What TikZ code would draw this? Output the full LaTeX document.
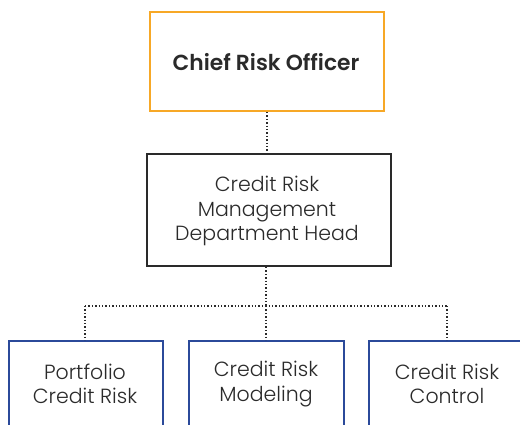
\documentclass[tikz,border=0pt]{standalone}
\usepackage{fontspec}
\setmainfont{Poppins}[UprightFont=* Light, BoldFont=* SemiBold]
\definecolor{cro}{HTML}{F7A826}
\definecolor{blu}{HTML}{2B4A9A}
\definecolor{txt}{HTML}{2A2A2A}
\begin{document}
\begin{tikzpicture}[x=1pt,y=1pt,
  box/.style={draw, line width=2pt, fill=white, inner sep=0pt, anchor=north west},
  lbl/.style={text=txt, align=center, font=\fontsize{20.5}{24.5}\selectfont},
  conn/.style={line width=1.4pt, dotted, txt}]
\useasboundingbox (0,0) rectangle (520,-425);
\clip (0,0) rectangle (520,-425);
% boxes
\node[box, draw=cro, minimum width=234pt, minimum height=99pt] (cro) at (149,-11) {};
\node[box, draw=txt, minimum width=244pt, minimum height=112pt] (head) at (146,-153) {};
\node[box, draw=blu, minimum width=154pt, minimum height=110pt] (p1) at (8,-340) {};
\node[box, draw=blu, minimum width=155pt, minimum height=110pt] (p2) at (188,-340) {};
\node[box, draw=blu, minimum width=160pt, minimum height=110pt] (p3) at (368,-340) {};
% labels
\node[lbl, font=\fontsize{21.8}{24.5}\selectfont\bfseries] (t1) at (266,-62) {Chief Risk Officer};
\node[lbl] (t2) at (267,-211) {Credit Risk\\Management\\Department Head};
\node[lbl] (t3) at (85,-384) {Portfolio\\Credit Risk};
\node[lbl] (t4) at (266,-384) {Credit Risk\\Modeling};
\node[lbl] (t5) at (447,-384) {Credit Risk\\Control};
% connectors
\coordinate (j) at (266,-306);
\coordinate (jl) at (85,-306);
\coordinate (jr) at (447,-306);
\draw[conn] (cro.south) -- (cro.south |- head.north);
\draw[conn] (head.south -| j) -- (j);
\draw[conn] (jl) -- (jr);
\draw[conn] (jl) -- (jl |- p1.north);
\draw[conn] (j) -- (j |- p2.north);
\draw[conn] (jr) -- (jr |- p3.north);
\end{tikzpicture}
\end{document}
